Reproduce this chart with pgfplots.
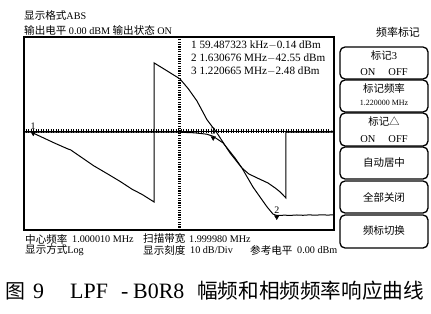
\documentclass[border=0pt]{standalone}
\usepackage{pgfplots}
\pgfplotsset{compat=1.18}
\usepackage{fontspec}
\setmainfont{Liberation Serif}
\newfontfamily\cjk{Noto Sans CJK SC}
\usetikzlibrary{arrows.meta}

\newcommand{\lat}{\fontsize{10.2}{11}\selectfont}
\newcommand{\han}{\fontsize{10.6}{11}\selectfont\cjk}

\begin{document}
\begin{tikzpicture}
\useasboundingbox (0bp,0bp) rectangle (431bp,-314bp);

% header lines above the trace window
\begin{scope}[every node/.style={anchor=west, inner sep=0}]
\node at (24bp,-15bp) {{\han 显示格式}{\lat ABS}};
\node at (24bp,-30bp) {{\han 输出电平} {\lat 0.00 dBM} {\han 输出状态} {\lat ON}};
\end{scope}

\begin{axis}[
  at={(24bp,-230bp)}, anchor=south west,
  width=310bp, height=193bp, scale only axis,
  xmin=0, xmax=2, ymin=-49.9, ymax=47.8,
  xtick=\empty, ytick=\empty,
  axis line style={line width=1.3bp},
  clip=false,
]
% graticule rulers: reference level and centre frequency
\addplot[black, line width=0.6bp, -{Stealth[length=3bp]}] coordinates {(0,0) (2,0)};
\addplot[black, line width=4bp, dash pattern=on 0.9bp off 1.6bp] coordinates {(0.01,0) (1.97,0)};
\addplot[black, line width=3bp, dash pattern=on 1.2bp off 1.2bp] coordinates {(1,-49.9) (1,47.8)};

% amplitude response (dB)
\addplot[black, line width=1bp] coordinates {
  (0.0,-0.3) (0.5,-0.3) (1.0,-0.4) (1.10,-0.7) (1.18,-1.4) (1.2207,-2.48)
  (1.284,-5.8) (1.361,-13.4) (1.406,-18.5) (1.477,-28.1) (1.530,-34.0)
  (1.568,-38.2) (1.606,-41.8) (1.6307,-42.55) (1.68,-42.4) (1.72,-42.5)
  (1.76,-42.3) (1.80,-42.45) (1.84,-42.25) (1.88,-42.4) (1.92,-42.2)
  (1.96,-42.35) (2.0,-42.2)};

% phase response, wrapped
\addplot[black, line width=1bp] coordinates {
  (0.058,-0.8) (0.20,-6.0) (0.284,-8.9) (0.30,-9.3) (0.45,-17.4)
  (0.55,-22.0) (0.62,-25.3) (0.70,-29.4) (0.76,-31.8) (0.839,-35.7)
  (0.839,34.7) (0.92,30.8) (1.006,26.6) (1.06,21.6) (1.116,15.4)
  (1.18,6.0) (1.245,-0.8) (1.329,-10.9) (1.406,-18.5) (1.45,-21.5)
  (1.503,-23.5) (1.574,-26.1) (1.62,-28.6) (1.652,-30.6) (1.690,-33.7)
  (1.690,-0.3) (2.0,-0.3)};

% frequency markers
\addplot[only marks, mark=triangle*, mark size=2.6bp,
  mark options={rotate=180, fill=black, yshift=1.5bp},
  nodes near coords, point meta=explicit symbolic,
  every node near coord/.style={font=\fontsize{10}{10}\selectfont, anchor=south, yshift=3bp, inner sep=0.5bp}]
  coordinates {(0.0595,-0.14) [1] (1.6307,-42.55) [2] (1.2207,-2.48) [3]};
\end{axis}

% marker readout
\begin{scope}[every node/.style={anchor=west, inner sep=0, font=\fontsize{11.2}{12}\selectfont}]
\node at (191bp,-45bp) {1\ 59.487323 kHz$-$0.14 dBm};
\node at (191bp,-58bp) {2\ 1.630676 MHz$-$42.55 dBm};
\node at (191bp,-71bp) {3\ 1.220665 MHz$-$2.48 dBm};
\end{scope}

% footer lines below the trace window
\begin{scope}[every node/.style={anchor=west, inner sep=0}]
\node at (25bp,-239bp) {\han 中心频率};
\node at (72bp,-239bp) {\lat 1.000010 MHz};
\node at (143bp,-239bp) {\han 扫描带宽};
\node at (189bp,-239bp) {\lat 1.999980 MHz};
\node at (25bp,-250bp) {{\han 显示方式}{\lat Log}};
\node at (143bp,-250bp) {\han 显示刻度};
\node at (190bp,-250bp) {\lat 10 dB/Div};
\node at (250bp,-250bp) {\han 参考电平};
\node at (297bp,-250bp) {\lat 0.00 dBm};
\end{scope}

% soft-key menu
\node[inner sep=0, font=\fontsize{11}{11}\selectfont\cjk] at (398bp,-32bp) {频率标记};
\begin{scope}[line width=1.3bp, rounded corners=5bp]
\draw (340bp,-47bp) rectangle (428bp,-79bp);
\draw (340bp,-80bp) rectangle (428bp,-112bp);
\draw (340bp,-113bp) rectangle (428bp,-146bp);
\draw (340bp,-147bp) rectangle (428bp,-179bp);
\draw (340bp,-181bp) rectangle (428bp,-213bp);
\draw (340bp,-215bp) rectangle (428bp,-248bp);
\end{scope}
\begin{scope}[every node/.style={inner sep=0, font=\fontsize{10.5}{11}\selectfont}]
\node at (384bp,-56bp) {{\cjk 标记}3};
\node at (384bp,-72bp) {ON\quad\ OFF};
\node at (384bp,-89bp) {\cjk 标记频率};
\node[font=\fontsize{8}{8}\selectfont] at (384bp,-103bp) {1.220000 MHz};
\node at (384bp,-122bp) {\cjk 标记△};
\node at (384bp,-139bp) {ON\quad\ OFF};
\node at (384bp,-163bp) {\cjk 自动居中};
\node at (384bp,-197bp) {\cjk 全部关闭};
\node at (384bp,-231bp) {\cjk 频标切换};
\end{scope}

% figure caption
\begin{scope}[every node/.style={anchor=base west, inner sep=0}]
\node[font=\fontsize{20}{20}\selectfont\cjk] at (5bp,-298bp) {图};
\node[font=\fontsize{22}{22}\selectfont] at (33bp,-298bp) {9};
\node[font=\fontsize{22}{22}\selectfont] at (70bp,-298bp) {LPF};
\node[font=\fontsize{22}{22}\selectfont] at (121bp,-298bp) {-};
\node[font=\fontsize{22}{22}\selectfont] at (133bp,-298bp) {B0R8};
\node[font=\fontsize{20.7}{21}\selectfont\cjk] at (197bp,-298bp) {幅频和相频频率响应曲线};
\end{scope}
\end{tikzpicture}
\end{document}
